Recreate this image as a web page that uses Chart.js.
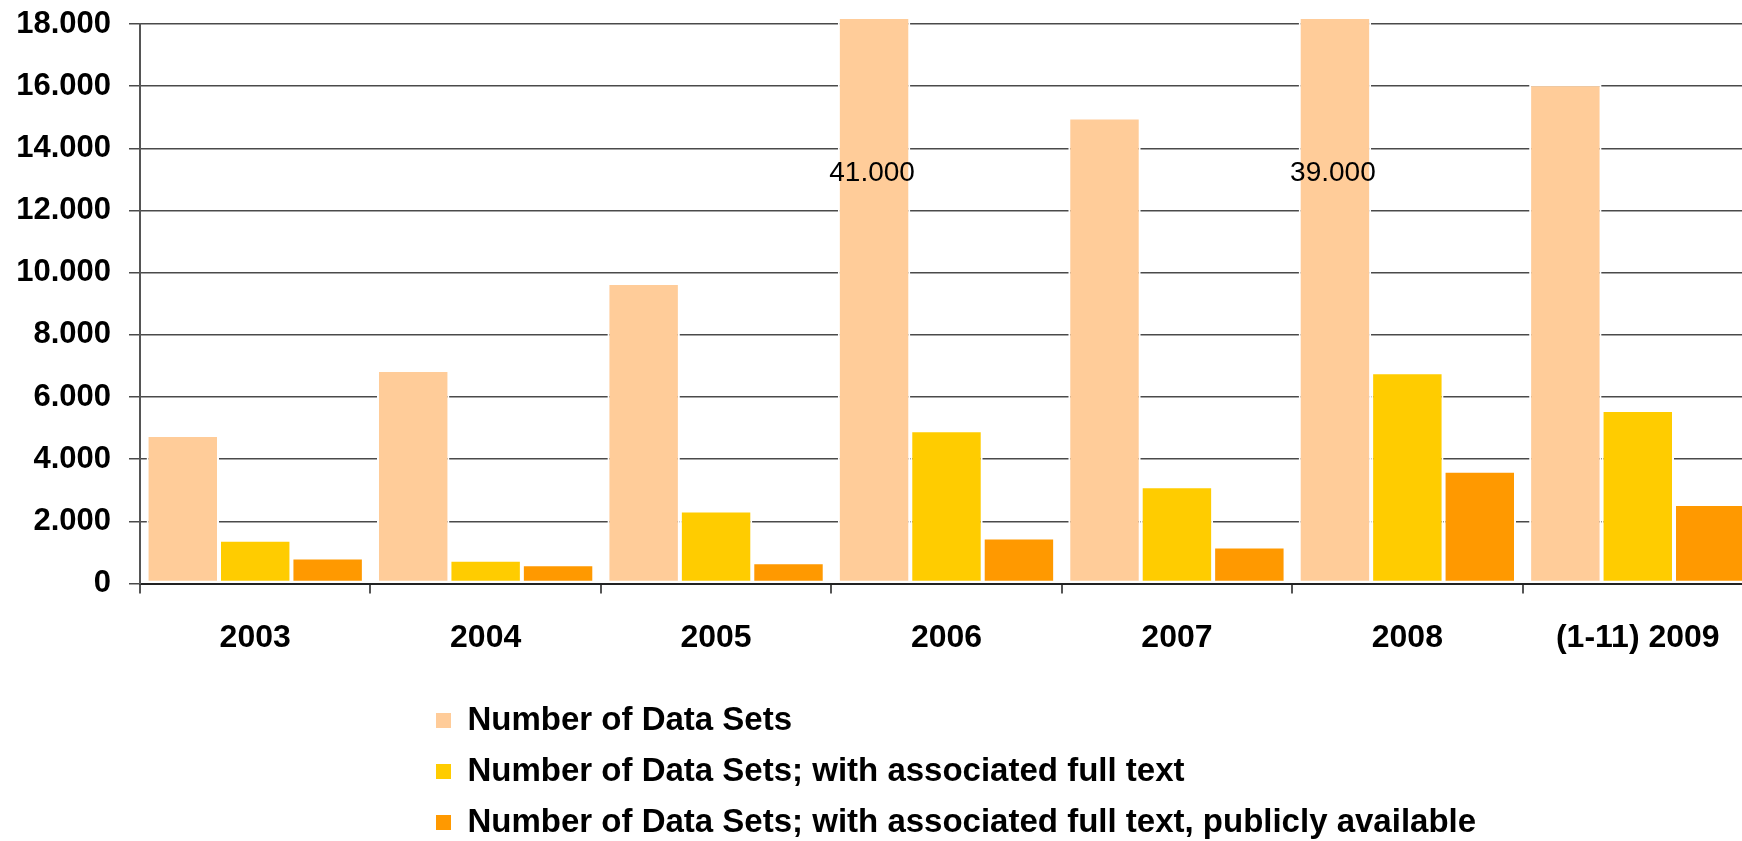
<!DOCTYPE html>
<html>
<head>
<meta charset="utf-8">
<script src="https://cdn.jsdelivr.net/npm/chart.js@4/dist/chart.umd.min.js"></script>
<style>
  html, body { margin: 0; padding: 0; background: #fff; overflow: hidden; }
  #wrap { position: relative; width: 1756px; height: 841px; }
</style>
</head>
<body>
<div id="wrap"><canvas id="c"></canvas></div>
<script>
// ---- data ----
const categories = ['2003', '2004', '2005', '2006', '2007', '2008', '(1-11) 2009'];
const seriesNames = [
  'Number of Data Sets',
  'Number of Data Sets; with associated full text',
  'Number of Data Sets; with associated full text, publicly available'
];
const dataSetsTotal = [4780, 6870, 9670, 41000, 14990, 39000, 16060];
const dataSetsFullText = [1410, 770, 2350, 4930, 3130, 6800, 5580];
const dataSetsPublic = [840, 620, 690, 1480, 1190, 3630, 2560];
const yMin = 0;
const yMax = 18000;
const yStep = 2000;

// ---- styles ----
const FONT = '"Liberation Sans", Arial, Helvetica, sans-serif';
const colors = ['#FFCC99', '#FFCC00', '#FF9900'];

function fmt(v) {
  return String(Math.round(v)).replace(/\B(?=(\d{3})+(?!\d))/g, '.');
}

// value labels for bars that exceed the axis
const overflowLabels = {
  id: 'overflowLabels',
  afterDatasetsDraw(chart, args, opts) {
    const ctx = chart.ctx;
    const yScale = chart.scales.y;
    const meta = chart.getDatasetMeta(0);
    const data = chart.data.datasets[0].data;
    ctx.save();
    ctx.font = 'normal 28px ' + FONT;
    ctx.fillStyle = '#000';
    ctx.textAlign = 'center';
    ctx.textBaseline = 'middle';
    data.forEach((v, i) => {
      if (v > yScale.max) {
        const el = meta.data[i];
        ctx.fillText(fmt(v), el.x - 2, yScale.getPixelForValue(opts.atValue));
      }
    });
    ctx.restore();
  }
};

// place the (vertical) legend below the x axis
const legendBelow = {
  id: 'legendBelow',
  afterLayout(chart, args, opts) {
    const lg = chart.legend;
    if (!lg) return;
    const top = chart.scales.x.bottom + opts.gap;
    lg.left = opts.left;
    lg.top = top;
    lg.right = chart.width;
    lg.bottom = top + 400;
    lg.width = lg.right - lg.left;
    lg.height = lg.bottom - lg.top;
  }
};

const datasets = [dataSetsTotal, dataSetsFullText, dataSetsPublic].map((d, i) => ({
  label: seriesNames[i],
  data: d,
  backgroundColor: colors[i],
  borderColor: '#ffffff',
  borderWidth: 2,
  borderSkipped: false,
  categoryPercentage: 0.943,
  barPercentage: 1.0,
  clip: { left: false, right: false, top: 5, bottom: false }
}));

new Chart(document.getElementById('c'), {
  type: 'bar',
  data: { labels: categories, datasets },
  plugins: [overflowLabels, legendBelow],
  options: {
    responsive: true,
    maintainAspectRatio: false,
    animation: false,
    devicePixelRatio: 1,
    layout: { padding: { left: 0, right: 3, top: 24, bottom: 159 } },
    scales: {
      x: {
        offset: true,
        grid: {
          display: true,
          drawOnChartArea: false,
          offset: true,
          tickLength: 10,
          color: '#555555',
          lineWidth: 2
        },
        border: { display: true, color: '#222222', width: 2 },
        ticks: {
          color: '#000',
          padding: 25,
          maxRotation: 0,
          autoSkip: false,
          font: { family: FONT, size: 32, weight: 'bold' }
        }
      },
      y: {
        min: yMin,
        max: yMax,
        afterFit(scale) {
          scale.width = 140;
          scale.paddingTop = 0;
          scale.paddingBottom = 0;
        },
        grid: {
          color: '#4a4a4a',
          lineWidth: 1.5,
          tickLength: 11,
          drawTicks: true
        },
        border: { display: true, color: '#555555', width: 2 },
        ticks: {
          stepSize: yStep,
          color: '#000',
          padding: 18,
          font: { family: FONT, size: 31, weight: 'bold' },
          callback: (v) => fmt(v)
        }
      }
    },
    plugins: {
      tooltip: { enabled: false },
      overflowLabels: { atValue: 13200 },
      legendBelow: { left: 418, gap: 4 },
      legend: {
        display: true,
        position: 'chartArea',
        align: 'start',
        labels: {
          boxWidth: 15,
          boxHeight: 15,
          padding: 18,
          color: '#000',
          font: { family: FONT, size: 33, weight: 'bold' },
          generateLabels(chart) {
            const items = Chart.defaults.plugins.legend.labels.generateLabels(chart);
            items.forEach(it => { it.lineWidth = 0; it.strokeStyle = 'rgba(0,0,0,0)'; });
            return items;
          }
        }
      }
    }
  }
});
</script>
</body>
</html>
